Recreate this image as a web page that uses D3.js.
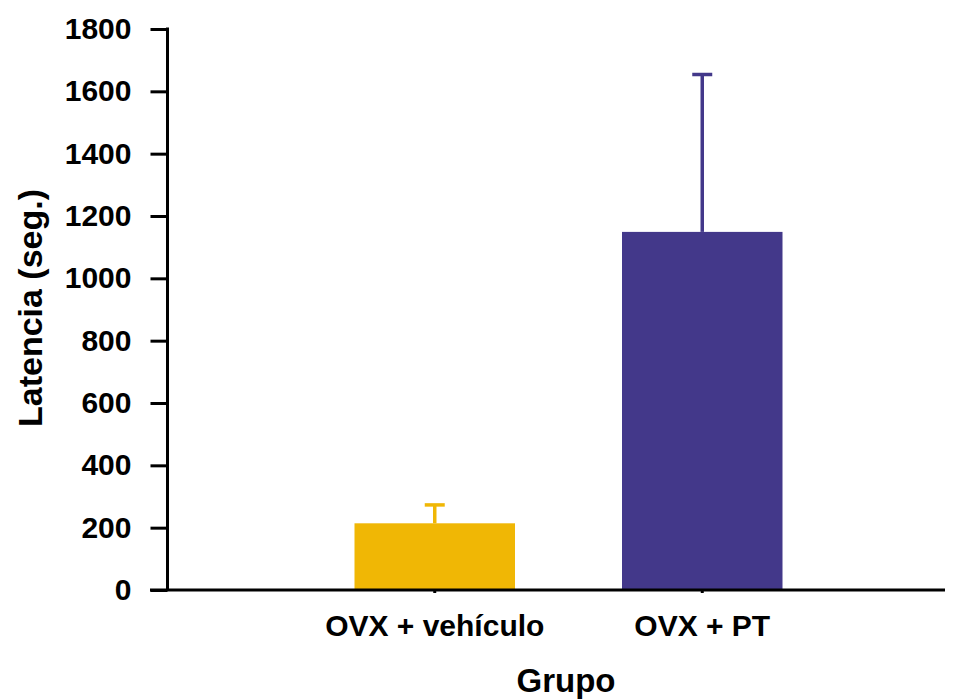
<!DOCTYPE html>
<html>
<head>
<meta charset="utf-8">
<script src="https://cdn.jsdelivr.net/npm/d3@7"></script>
<style>
  body { margin: 0; background: #fff; }
  text { font-family: "Liberation Sans", Arial, sans-serif; font-weight: bold; fill: #000; }
</style>
</head>
<body>
<svg id="chart" width="959" height="700"></svg>
<script>
const categories = ['OVX + vehículo', 'OVX + PT']
const means = [214, 1149]
const errors = [59, 505]
const colors = ['#f0b705', '#43388a']
const yTicks = [0, 200, 400, 600, 800, 1000, 1200, 1400, 1600, 1800]

const svg = d3.select('#chart')

const y = d3.scaleLinear().domain([0, 1800]).range([590, 29])
const x = d3.scaleBand()
  .domain(categories)
  .range([301, 836])
  .paddingInner(0.4)
  .paddingOuter(0.2)

// bars
svg.selectAll('.bar')
  .data(categories)
  .join('rect')
  .attr('class', 'bar')
  .attr('x', (d) => x(d))
  .attr('width', x.bandwidth())
  .attr('y', (d, i) => y(means[i]))
  .attr('height', (d, i) => y(0) - y(means[i]))
  .attr('fill', (d, i) => colors[i])

// error bars (upper only)
svg.selectAll('.err')
  .data(categories)
  .join('line')
  .attr('class', 'err')
  .attr('x1', (d) => x(d) + x.bandwidth() / 2)
  .attr('x2', (d) => x(d) + x.bandwidth() / 2)
  .attr('y1', (d, i) => y(means[i]))
  .attr('y2', (d, i) => y(means[i] + errors[i]))
  .attr('stroke', (d, i) => colors[i])
  .attr('stroke-width', 3.5)

svg.selectAll('.cap')
  .data(categories)
  .join('line')
  .attr('class', 'cap')
  .attr('x1', (d) => x(d) + x.bandwidth() / 2 - 10)
  .attr('x2', (d) => x(d) + x.bandwidth() / 2 + 10)
  .attr('y1', (d, i) => y(means[i] + errors[i]))
  .attr('y2', (d, i) => y(means[i] + errors[i]))
  .attr('stroke', (d, i) => colors[i])
  .attr('stroke-width', 3.5)

// y axis
const yAxis = svg.append('g')
  .attr('transform', 'translate(167.5,0)')
  .call(d3.axisLeft(y).tickValues(yTicks).tickFormat(d3.format('d')).tickSize(17).tickPadding(19))
yAxis.select('.domain').attr('stroke-width', 3).attr('d', `M0,${y(1800) - 1.5}V${y(0)}`)
yAxis.selectAll('.tick line').attr('stroke-width', 3)
yAxis.selectAll('.tick text').style('font-size', '30px')

// x axis
const xAxis = svg.append('g')
  .attr('transform', `translate(0,${y(0)})`)
  .call(d3.axisBottom(x).tickSize(3))
xAxis.select('.domain').attr('stroke-width', 3).attr('d', 'M150,0H945')
xAxis.selectAll('.tick line').attr('stroke-width', 3)
xAxis.selectAll('.tick text')
  .attr('y', 46)
  .attr('dy', null)
  .style('font-size', '30px')

// axis titles
svg.append('text')
  .attr('x', 566)
  .attr('y', 692)
  .attr('text-anchor', 'middle')
  .style('font-size', '33px')
  .text('Grupo')

svg.append('text')
  .attr('transform', 'translate(42,308) rotate(-90)')
  .attr('text-anchor', 'middle')
  .style('font-size', '34px')
  .text('Latencia (seg.)')
</script>
</body>
</html>
